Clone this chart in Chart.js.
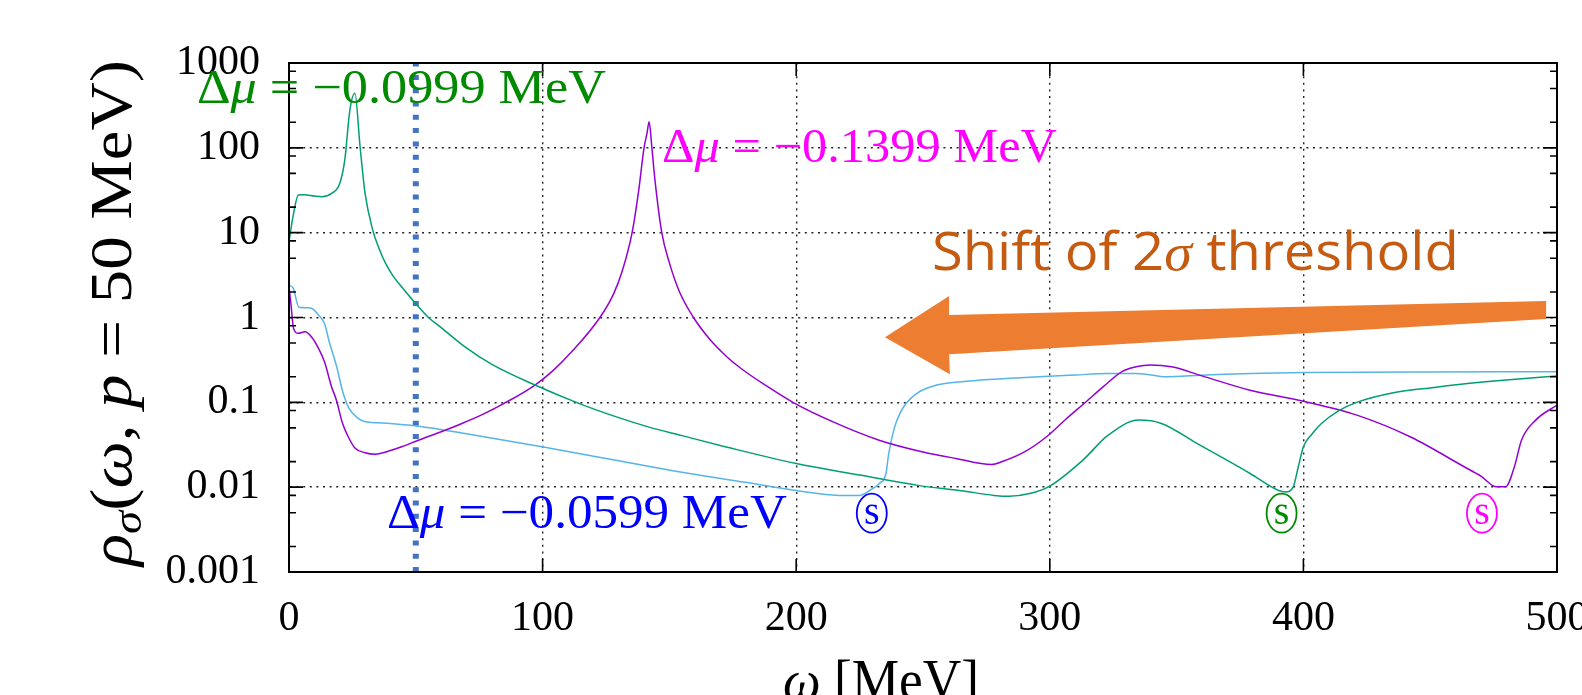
<!DOCTYPE html>
<html>
<head>
<meta charset="utf-8">
<script src="https://cdn.jsdelivr.net/npm/chart.js@4.4.1/dist/chart.umd.min.js"></script>
<style>
  html, body { margin: 0; padding: 0; background: #fff; }
  #wrap { width: 1582px; height: 695px; }
</style>
</head>
<body>
<div id="wrap"><canvas id="spec" width="1582" height="695"></canvas></div>
<script>
// Δμ = −0.0999 MeV (green)
const omegaGreen = [0, 1.5, 3.7, 6, 10, 13, 16.8, 20, 22, 24, 26, 28, 30, 33, 35.5, 38, 41, 44.4, 51, 55, 60, 69.4, 80, 97, 114, 130, 142, 155, 172, 200, 225, 248, 265, 278, 284, 292, 300, 313, 323, 335, 344, 358, 379, 390, 393, 396, 398, 400, 403, 407, 414, 421, 435, 450, 463, 480, 500];
const rhoGreen = [7.8, 15, 27.8, 28, 27, 26.5, 29, 38, 72, 279, 440, 105, 29, 10.8, 6.5, 4.4, 3.1, 2.3, 1.34, 1.0, 0.76, 0.45, 0.28, 0.16, 0.098, 0.066, 0.051, 0.0405, 0.030, 0.019, 0.0139, 0.0105, 0.0091, 0.0080, 0.0078, 0.0084, 0.0103, 0.0208, 0.041, 0.0617, 0.0564, 0.0328, 0.0145, 0.0092, 0.0088, 0.0101, 0.0174, 0.03, 0.041, 0.056, 0.08, 0.1, 0.129, 0.148, 0.164, 0.183, 0.204];

// Δμ = −0.1399 MeV (purple)
const omegaPurple = [0, 0.8, 1.8, 3.7, 6.3, 8.9, 11.7, 14, 16.8, 18.7, 21, 23.4, 26, 30, 34, 40, 44.4, 51, 60, 68, 76.4, 84.8, 97, 104, 112, 122.6, 128, 131.5, 135.3, 137.8, 140, 141.2, 142, 143.1, 144.3, 147, 150, 154, 159.5, 166, 172.4, 178, 188, 198.7, 215, 232.7, 250, 263, 277, 281, 290, 298.6, 306, 314.2, 321, 328.3, 334, 339.6, 348, 360, 378.9, 400, 421.1, 442.3, 463.4, 470, 476.1, 479.7, 483.2, 486, 491.6, 500];
const rhoPurple = [2.3, 1.4, 0.74, 0.65, 0.68, 0.59, 0.43, 0.3, 0.152, 0.106, 0.058, 0.039, 0.029, 0.0255, 0.0245, 0.027, 0.0299, 0.0358, 0.045, 0.056, 0.072, 0.097, 0.16, 0.235, 0.41, 1.0, 1.9, 3.6, 10, 30, 100, 150, 203, 100, 42, 10, 4.4, 2.0, 1.0, 0.55, 0.35, 0.254, 0.158, 0.1, 0.058, 0.0358, 0.026, 0.0218, 0.0185, 0.0199, 0.026, 0.039, 0.062, 0.101, 0.152, 0.229, 0.262, 0.275, 0.262, 0.205, 0.139, 0.103, 0.0706, 0.039, 0.0174, 0.0135, 0.0101, 0.0101, 0.0174, 0.0358, 0.0617, 0.093];

// Δμ = −0.0599 MeV (light blue)
const omegaBlue = [0, 1.7, 3.9, 7.6, 9.3, 11.6, 14, 16, 18.7, 21, 23.4, 27.3, 30, 35.2, 51, 69.4, 99.8, 130, 154.3, 180, 201.1, 216.7, 225, 229.1, 232.7, 235.4, 236.5, 238.8, 241, 243.3, 248, 255.4, 270, 288.3, 310, 322.6, 333.9, 340, 345.1, 352, 359.2, 400, 450, 500];
const rhoBlue = [2.4, 2.2, 1.32, 1.3, 1.26, 1.07, 0.85, 0.5, 0.27, 0.14, 0.088, 0.0646, 0.059, 0.0574, 0.0524, 0.043, 0.0299, 0.0205, 0.0151, 0.0114, 0.009, 0.008, 0.008, 0.0092, 0.011, 0.0145, 0.025, 0.051, 0.075, 0.097, 0.13, 0.16, 0.18, 0.195, 0.21, 0.219, 0.219, 0.21, 0.2, 0.203, 0.209, 0.225, 0.228, 0.229];

const xTicks = [0, 100, 200, 300, 400, 500];
const yTicks = [0.001, 0.01, 0.1, 1, 10, 100, 1000];
const yTickLabels = ['0.001', '0.01', '0.1', '1', '10', '100', '1000'];
const yMinor = [2, 5, 8];
const markerOmega = 50;

const SERIF = "'Liberation Serif', 'DejaVu Serif', serif";
const SANS = "'Open Sans', 'Noto Sans', sans-serif";

const pts = (xs, ys) => xs.map((x, i) => ({ x: x, y: ys[i] }));

function fontFor(st, size) {
  const sub = st.includes('sub');
  const sz = sub ? size * 0.7 : size;
  return (st.includes('i') ? 'italic ' : '') + sz + 'px ' + (st.includes('sans') ? SANS : SERIF);
}

// text pieces [text, style]; stretched horizontally to `target` px wide
function drawRich(ctx, x, y, pieces, size, color, target) {
  ctx.save();
  let w = 0;
  pieces.forEach(([t, st]) => { ctx.font = fontFor(st, size); w += ctx.measureText(t).width; });
  ctx.translate(x, y);
  if (target) ctx.scale(target / w, 1);
  ctx.fillStyle = color;
  ctx.textBaseline = 'alphabetic';
  ctx.textAlign = 'left';
  let cx = 0;
  pieces.forEach(([t, st]) => {
    ctx.font = fontFor(st, size);
    ctx.fillText(t, cx, st.includes('sub') ? size * 0.16 : 0);
    cx += ctx.measureText(t).width;
  });
  ctx.restore();
}

const decor = {
  id: 'decor',
  afterDatasetsDraw(chart) {
    const ctx = chart.ctx, a = chart.chartArea;
    const xs = chart.scales.x, ys = chart.scales.y;
    ctx.save();
    ctx.strokeStyle = '#000';
    ctx.lineWidth = 2;
    ctx.strokeRect(a.left, a.top, a.right - a.left, a.bottom - a.top);
    ctx.lineWidth = 1.6;
    ctx.beginPath();
    xTicks.forEach(v => {
      const px = xs.getPixelForValue(v);
      ctx.moveTo(px, a.bottom); ctx.lineTo(px, a.bottom - 13);
      ctx.moveTo(px, a.top); ctx.lineTo(px, a.top + 13);
    });
    yTicks.forEach((v, k) => {
      const py = ys.getPixelForValue(v);
      ctx.moveTo(a.left, py); ctx.lineTo(a.left + 14, py);
      ctx.moveTo(a.right, py); ctx.lineTo(a.right - 14, py);
      if (k < yTicks.length - 1) {
        yMinor.forEach(m => {
          const q = ys.getPixelForValue(v * m);
          ctx.moveTo(a.left, q); ctx.lineTo(a.left + 7, q);
          ctx.moveTo(a.right, q); ctx.lineTo(a.right - 7, q);
        });
      }
    });
    ctx.stroke();
    ctx.restore();
  },
  afterDraw(chart) {
    const ctx = chart.ctx;
    const xs = chart.scales.x, ys = chart.scales.y;
    const X = v => xs.getPixelForValue(v), Y = v => ys.getPixelForValue(v);
    ctx.save();

    // arrow, corners in data units
    const arrow = [[235, 0.587], [260.3, 1.79], [260.3, 1.067], [495.7, 1.56], [495.7, 0.957], [260.3, 0.37], [260.6, 0.215]];
    ctx.fillStyle = '#ed7d31';
    ctx.beginPath();
    arrow.forEach(([u, v], i) => i ? ctx.lineTo(X(u), Y(v)) : ctx.moveTo(X(u), Y(v)));
    ctx.closePath();
    ctx.fill();

    // curve labels
    drawRich(ctx, X(-36.3), Y(337), [['Δ', ''], ['μ', 'i'], [' = −0.0999 MeV', '']], 48, '#008a00', 409);
    drawRich(ctx, X(147.1), Y(68), [['Δ', ''], ['μ', 'i'], [' = −0.1399 MeV', '']], 48, '#ff00ff', 395);
    drawRich(ctx, X(38.6), Y(0.00329), [['Δ', ''], ['μ', 'i'], [' = −0.0599 MeV', '']], 48, '#0000ff', 400);

    drawRich(ctx, X(253.5), Y(3.62), [['Shift of 2', 'sans'], ['σ', 'i'], [' threshold', 'sans']], 53, '#c55a11', 527);

    // circled s markers
    [[229.8, '#0000ff'], [391.4, '#008a00'], [470.4, '#ff00ff']].forEach(([u, col]) => {
      const cx = X(u), cy = Y(0.00493);
      ctx.strokeStyle = col;
      ctx.lineWidth = 1.8;
      ctx.beginPath();
      ctx.ellipse(cx, cy, 15, 19.5, 0, 0, Math.PI * 2);
      ctx.stroke();
      ctx.fillStyle = col;
      ctx.font = '40px ' + SERIF;
      ctx.textAlign = 'center';
      ctx.textBaseline = 'alphabetic';
      ctx.fillText('s', cx, cy + 11);
    });

    // axis titles
    ctx.save();
    ctx.translate(131, 566);
    ctx.rotate(-Math.PI / 2);
    drawRich(ctx, 0, 0, [['ρ', 'i'], ['σ', 'isub'], ['(', ''], ['ω', 'i'], [', ', ''], ['p', 'i'], [' = 50 MeV)', '']], 60, '#000', 506);
    ctx.restore();
    drawRich(ctx, 783, 699, [['ω', 'i'], [' [MeV]', '']], 56, '#000', 196);

    ctx.restore();
  }
};

new Chart(document.getElementById('spec'), {
  type: 'line',
  data: {
    datasets: [
      { data: pts(omegaGreen, rhoGreen), borderColor: '#009e73', borderWidth: 1.5, cubicInterpolationMode: 'monotone' },
      { data: pts(omegaPurple, rhoPurple), borderColor: '#9400d3', borderWidth: 1.5, cubicInterpolationMode: 'monotone' },
      { data: pts(omegaBlue, rhoBlue), borderColor: '#56b4e9', borderWidth: 1.5, cubicInterpolationMode: 'monotone' },
      { data: [{ x: markerOmega, y: 0.001 }, { x: markerOmega, y: 1000 }], borderColor: '#4472c4', borderWidth: 6, borderDash: [5, 8.3], borderCapStyle: 'butt' }
    ]
  },
  options: {
    responsive: false,
    animation: false,
    devicePixelRatio: 1,
    elements: { point: { radius: 0 }, line: { fill: false } },
    layout: { padding: { top: 63, right: 25, left: 0, bottom: 0 } },
    plugins: { legend: { display: false }, tooltip: { enabled: false } },
    scales: {
      x: {
        type: 'linear', min: 0, max: 500,
        afterBuildTicks: s => { s.ticks = xTicks.map(v => ({ value: v })); },
        afterFit: s => { s.height = 123; s.paddingLeft = 0; s.paddingRight = 0; },
        grid: { color: '#222', lineWidth: 1.4, drawTicks: false },
        border: { display: true, color: '#000', width: 2, dash: [2, 4.6] },
        ticks: { color: '#000', font: { family: SERIF, size: 42 }, padding: 22, maxRotation: 0, autoSkip: false }
      },
      y: {
        type: 'logarithmic', min: 0.001, max: 1000,
        afterBuildTicks: s => { s.ticks = yTicks.map(v => ({ value: v })); },
        afterFit: s => { s.width = 289; },
        grid: { color: '#222', lineWidth: 1.4, drawTicks: false },
        border: { display: true, color: '#000', width: 2, dash: [2, 4.6] },
        ticks: {
          color: '#000', font: { family: SERIF, size: 42 }, padding: 29, autoSkip: false,
          callback: v => { const i = yTicks.indexOf(v); return i >= 0 ? yTickLabels[i] : ''; }
        }
      }
    }
  },
  plugins: [decor]
});
</script>
</body>
</html>
